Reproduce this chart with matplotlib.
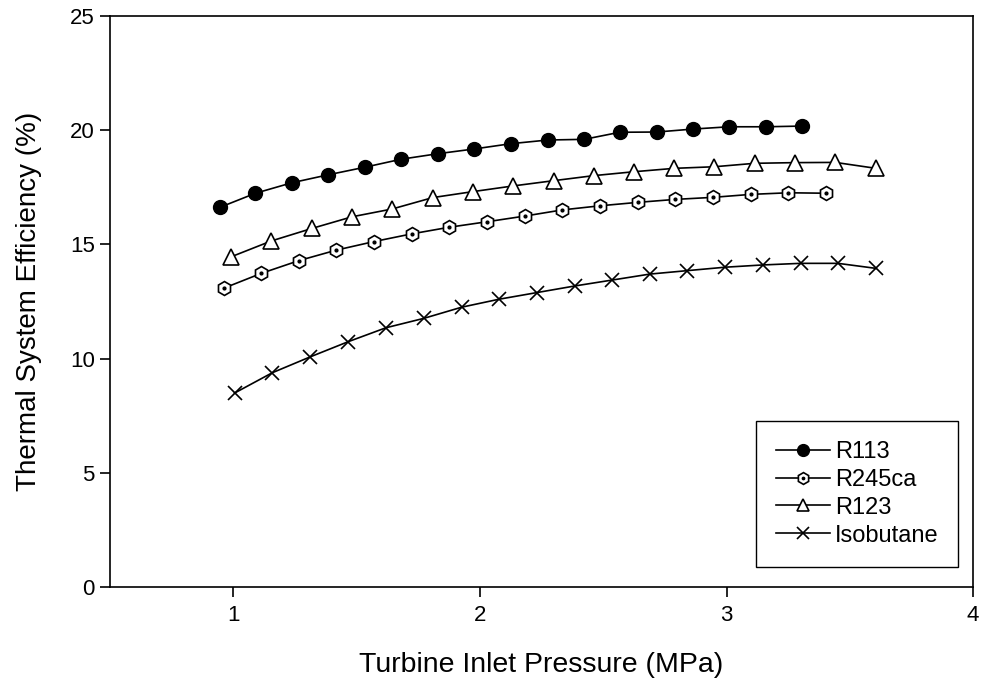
import matplotlib
matplotlib.use("Agg")
import matplotlib.pyplot as plt

plt.rcParams['font.family'] = ['Liberation Sans', 'DejaVu Sans']

# R113
r113_p = [0.945, 1.09, 1.238, 1.386, 1.534, 1.681, 1.829, 1.978, 2.126, 2.275,
          2.423, 2.567, 2.717, 2.864, 3.01, 3.158, 3.304]
r113_eff = [16.62, 17.24, 17.70, 18.05, 18.38, 18.73, 18.97, 19.18, 19.41, 19.57,
            19.60, 19.91, 19.92, 20.05, 20.15, 20.15, 20.18]

# R245ca
r245_p = [0.961, 1.113, 1.266, 1.418, 1.569, 1.723, 1.875, 2.028, 2.182, 2.334,
          2.487, 2.640, 2.792, 2.945, 3.099, 3.251, 3.404]
r245_eff = [13.08, 13.73, 14.29, 14.75, 15.12, 15.46, 15.75, 15.99, 16.24, 16.51,
            16.69, 16.84, 16.97, 17.06, 17.19, 17.26, 17.24]

# R123
r123_p = [0.992, 1.154, 1.319, 1.482, 1.644, 1.809, 1.971, 2.135, 2.299, 2.461,
          2.623, 2.788, 2.951, 3.114, 3.276, 3.441, 3.606]
r123_eff = [14.46, 15.15, 15.70, 16.21, 16.55, 17.05, 17.31, 17.56, 17.79, 18.01,
            18.18, 18.33, 18.40, 18.55, 18.58, 18.59, 18.33]

# Isobutane
iso_p = [1.005, 1.158, 1.313, 1.466, 1.619, 1.772, 1.926, 2.078, 2.231, 2.385,
         2.537, 2.689, 2.840, 2.993, 3.147, 3.300, 3.452, 3.606]
iso_eff = [8.49, 9.38, 10.08, 10.74, 11.35, 11.76, 12.25, 12.60, 12.89, 13.18,
           13.44, 13.70, 13.85, 14.00, 14.10, 14.17, 14.17, 13.95]

x_ticks = [1, 2, 3, 4]
y_ticks = [0, 5, 10, 15, 20, 25]

fig = plt.figure(figsize=(9.82, 6.87), dpi=100)
ax = fig.add_axes([0.112, 0.1456, 0.879, 0.8311])

lw = 1.2
ax.plot(r113_p, r113_eff, color='black', lw=lw, marker='o', markersize=10,
        markerfacecolor='black', markeredgecolor='black', label='R113')
h245, = ax.plot(r245_p, r245_eff, color='black', lw=lw, marker='h', markersize=10,
                markerfacecolor='white', markeredgecolor='black', markeredgewidth=1.2)
# dots inside the hexagons
dot, = ax.plot(r245_p, r245_eff, linestyle='none', marker='o', markersize=2,
               color='black')
ax.plot(r123_p, r123_eff, color='black', lw=lw, marker='^', markersize=11,
        markerfacecolor='white', markeredgecolor='black', markeredgewidth=1.2,
        label='R123')
ax.plot(iso_p, iso_eff, color='black', lw=lw, marker='x', markersize=10,
        markeredgewidth=1.2, label='Isobutane')

handles, labels = ax.get_legend_handles_labels()
handles.insert(1, (h245, dot))
labels.insert(1, 'R245ca')

leg = ax.legend(handles, labels, loc='lower right', bbox_to_anchor=(0.983, 0.0356),
                borderaxespad=0, fontsize=17, fancybox=False, edgecolor='black',
                framealpha=1, handlelength=2.3, labelspacing=0.25,
                borderpad=0.85, handletextpad=0.2, markerscale=0.85)
leg.get_frame().set_linewidth(1.0)

ax.set_xlim(0.5, 4)
ax.set_ylim(0, 25)
ax.set_xticks(x_ticks)
ax.set_yticks(y_ticks)
ax.tick_params(direction='out', length=7, width=1.2, labelsize=16)
ax.tick_params(axis='y', pad=4)
ax.tick_params(axis='x', pad=6)
for s in ax.spines.values():
    s.set_linewidth(1.2)

ax.set_xlabel('Turbine Inlet Pressure (MPa)', fontsize=20.5, labelpad=19)
ax.set_ylabel('Thermal System Efficiency (%)', fontsize=20, labelpad=20)

fig.savefig('out.png', dpi=100)
